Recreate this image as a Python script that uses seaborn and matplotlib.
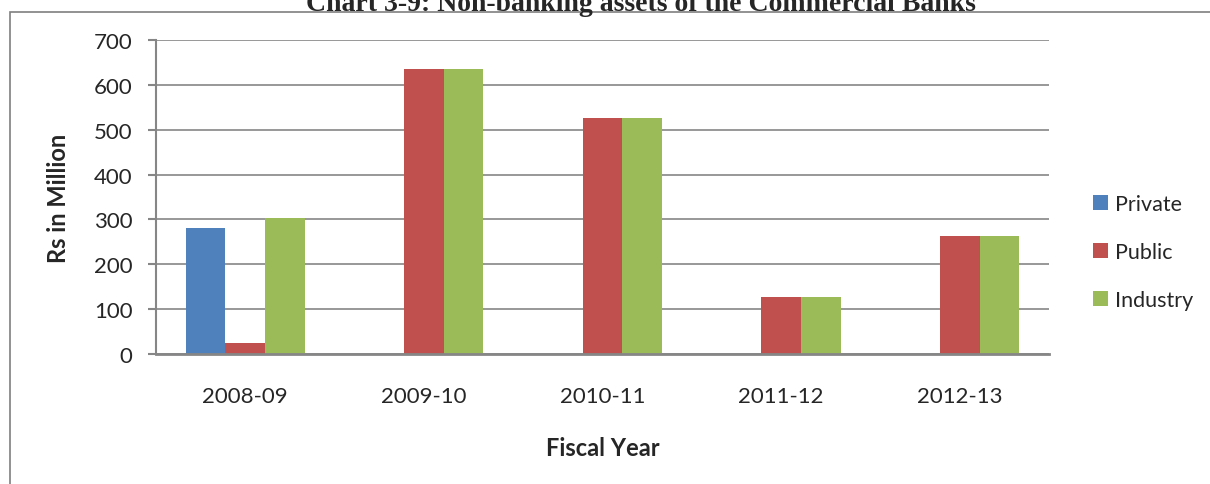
import matplotlib
matplotlib.use("Agg")
import matplotlib.pyplot as plt
import seaborn as sns
import pandas as pd
from matplotlib.patches import Rectangle, Patch

years = ["2008-09", "2009-10", "2010-11", "2011-12", "2012-13"]
private = [281, 0, 0, 0, 0]
public = [24, 635, 526, 126, 264]
industry = [303, 635, 526, 126, 264]
series_names = ["Private", "Public", "Industry"]
colors = ["#4F81BD", "#C0504D", "#9BBB59"]
yticks = [0, 100, 200, 300, 400, 500, 600, 700]

df = pd.DataFrame({
    "Fiscal Year": years * 3,
    "Value": private + public + industry,
    "Series": [s for s in series_names for _ in years],
})

sns.set_theme(style="white")
plt.rcParams["font.family"] = ["Lato", "DejaVu Sans"]

W, H = 1210, 485
fig = plt.figure(figsize=(12.1, 4.85), dpi=100)
ax = fig.add_axes([156/W, 1 - 355/H, 893/W, 314/H])

sns.barplot(data=df, x="Fiscal Year", y="Value", hue="Series",
            palette=colors, width=0.667, gap=0, saturation=1,
            linewidth=0, ax=ax, legend=False)

ax.set_xlim(-0.5, 4.5)
ax.set_ylim(0, 700)
ax.set_yticks(yticks)
ax.set_yticklabels([str(t) for t in yticks], fontsize=16)
ax.tick_params(axis="x", labelsize=16, length=0, pad=23)
ax.tick_params(axis="y", length=6, width=1.5, color="#868686", left=True, pad=11)
ax.yaxis.grid(True, color="#868686", linewidth=1.2)
ax.set_axisbelow(True)
for s in ["top", "right"]:
    ax.spines[s].set_visible(False)
ax.spines["left"].set_color("#868686")
ax.spines["left"].set_linewidth(1.5)
ax.spines["bottom"].set_color("#868686")
ax.spines["bottom"].set_linewidth(2)

ax.set_xlabel("Fiscal Year", fontsize=17, fontweight="bold", labelpad=22)
ax.set_ylabel("Rs in Million", fontsize=17, fontweight="bold", labelpad=17)

handles = [Patch(facecolor=c, edgecolor="none") for c in colors]
fig.legend(handles, series_names, loc="center left",
           bbox_to_anchor=(1078/W, 1 - 253/H), frameon=False,
           fontsize=15.5, handlelength=0.7, handleheight=0.7,
           handletextpad=0.3, labelspacing=1.3, borderpad=0.2)

fig.patches.append(Rectangle((10/W, -0.05), 1.05, 1 - 13/H + 0.05,
                             transform=fig.transFigure, fill=False,
                             edgecolor="#7f7f7f", linewidth=1.2))

fig.text(641/W, 1 - 11/H, "Chart 3-9: Non-banking assets of the Commercial Banks",
         ha="center", va="baseline", fontsize=20, fontweight="bold",
         family=["Liberation Serif", "DejaVu Serif"])

fig.savefig("out.png", dpi=100)
